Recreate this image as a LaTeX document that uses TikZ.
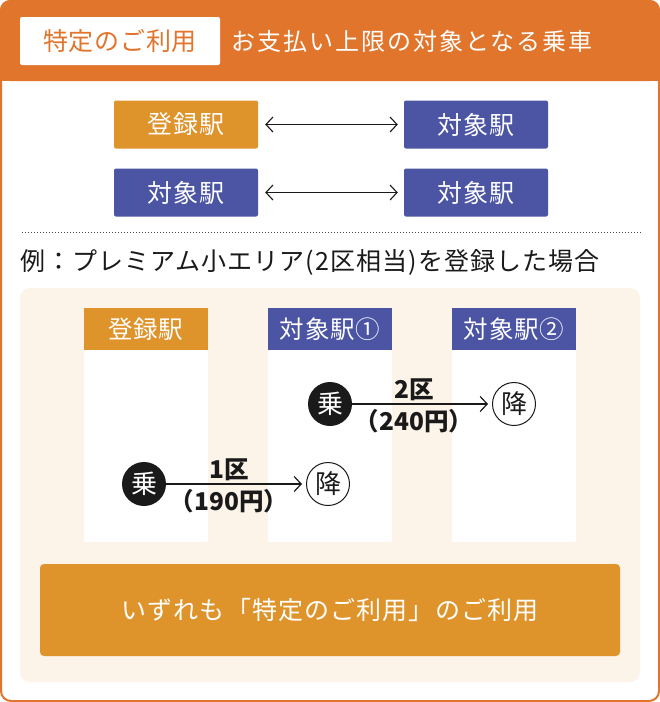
\documentclass[tikz,border=0pt]{standalone}
\usepackage{fontspec}
\setmainfont{Noto Sans CJK JP}
\newfontfamily\jpa[LetterSpace=8.5]{Noto Sans CJK JP}
\newfontfamily\jpb[LetterSpace=3]{Noto Sans CJK JP}
\newfontfamily\jpc[LetterSpace=4.5]{Noto Sans CJK JP}
\newfontfamily\jpd[LetterSpace=4.5]{Noto Sans CJK JP}
\newfontfamily\jpm{Noto Sans CJK JP}
\usetikzlibrary{arrows.meta,calc}
\definecolor{hdr}{HTML}{E1752C}
\definecolor{amber}{HTML}{DF932B}
\definecolor{indigo}{HTML}{4B55A3}
\definecolor{cream}{HTML}{FCF3E9}
\definecolor{ink}{HTML}{1A1A1A}
\tikzset{
  x=1pt,y=1pt,
  txt/.style={inner sep=0,outer sep=0,anchor=center},
  stbox/.style={draw=none,rounded corners=2pt,text=white,inner sep=0,minimum width=144pt,minimum height=48pt,font=\fontsize{25}{25}\selectfont\jpb},
  amberbox/.style={stbox,fill=amber},
  indigobox/.style={stbox,fill=indigo},
  headbox/.style={inner sep=0,text=white,minimum width=124pt,minimum height=42pt,font=\fontsize{24.5}{24.5}\selectfont\jpb},
  column/.style={fill=white,rounded corners=2pt,inner sep=0,minimum width=124pt,minimum height=192pt},
  ride/.style={circle,fill=ink,text=white,inner sep=0,minimum size=44pt,font=\fontsize{26}{26}\selectfont},
  alight/.style={circle,draw=ink,line width=1pt,fill=white,text=ink,inner sep=0,minimum size=43pt,font=\fontsize{26}{26}\selectfont},
  link/.style={draw=ink,line width=1.2pt,-{Straight Barb[length=7pt,width=15pt,line width=1.2pt]}},
  biglink/.style={draw=ink,line width=1.1pt,{Straight Barb[length=7pt,width=15pt,line width=1.1pt]}-{Straight Barb[length=7pt,width=15pt,line width=1.1pt]},shorten <=7pt,shorten >=6pt},
  lab/.style={txt,text=ink,font=\fontsize{24.5}{24.5}\selectfont\jpm\bfseries},
}
\begin{document}
\begin{tikzpicture}
\useasboundingbox (0,0) rectangle (660,-702);
% outer frame
\draw[hdr,fill=white,line width=2pt,rounded corners=10pt] (1,-1) rectangle (659,-701);
\fill[hdr,rounded corners=10pt] (0,0) -- (660,0) -- (660,-81) -- (0,-81) -- cycle;
\fill[hdr] (0,-40) rectangle (660,-81);
\node[fill=white,rounded corners=2pt,minimum width=200pt,minimum height=48pt,inner sep=0,text=hdr,font=\fontsize{25}{25}\selectfont\jpb] (tag) at (120,-41) {特定のご利用};
\node[txt,anchor=west,text=white,font=\fontsize{24}{24}\selectfont\jpa] (title) at (231,-41) {お支払い上限の対象となる乗車};
% top pairs
\node[amberbox] (a1) at (186,-124.5) {登録駅};
\node[indigobox] (b1) at (476,-124.5) {対象駅};
\node[indigobox] (a2) at (186,-192.5) {対象駅};
\node[indigobox] (b2) at (476,-192.5) {対象駅};
\draw[biglink] (a1) -- (b1);
\draw[biglink] (a2) -- (b2);
% dotted rule
\coordinate (d1) at (22,-232);
\coordinate (d2) at (642,-232);
\draw[ink!80,line width=1pt,dash pattern=on 1pt off 2pt] (d1) -- (d2);
\node[txt,anchor=west,text=ink,font=\fontsize{25}{25}\selectfont\jpc] (ex) at (20,-262) {例：プレミアム小エリア(2区相当)を登録した場合};
% panel
\fill[cream,rounded corners=10pt] (20,-288) rectangle (640,-682);
% columns
\node[column,anchor=north] (c1) at (146,-350) {};
\node[column,anchor=north] (c2) at (330,-350) {};
\node[column,anchor=north] (c3) at (514,-350) {};
\node[headbox,fill=amber] (h1) at (146,-329) {登録駅};
\node[headbox,fill=indigo] (h2) at (330,-329) {対象駅①};
\node[headbox,fill=indigo] (h3) at (514,-329) {対象駅②};
% rides
\node[ride] (r1) at (144,-484) {乗};
\node[alight] (l1) at (328,-484) {降};
\draw[link] (r1) -- ($(l1.west)+(-4,0)$) coordinate (l1e);
\node[lab] (t1) at (229,-470) {1区};
\node[lab] (p1) at (229,-501) {（190円）};
\node[ride] (r2) at (330,-404) {乗};
\node[alight] (l2) at (514,-404) {降};
\draw[link] (r2) -- ($(l2.west)+(-4,0)$) coordinate (l2e);
\node[lab] (t2) at (414,-390) {2区};
\node[lab] (p2) at (414,-421) {（240円）};
% footer
\node[fill=amber,rounded corners=4pt,inner sep=0,minimum width=580pt,minimum height=92pt,text=white,font=\fontsize{25}{25}\selectfont\jpd] (foot) at (330,-610) {いずれも「特定のご利用」のご利用};
\end{tikzpicture}
\end{document}
